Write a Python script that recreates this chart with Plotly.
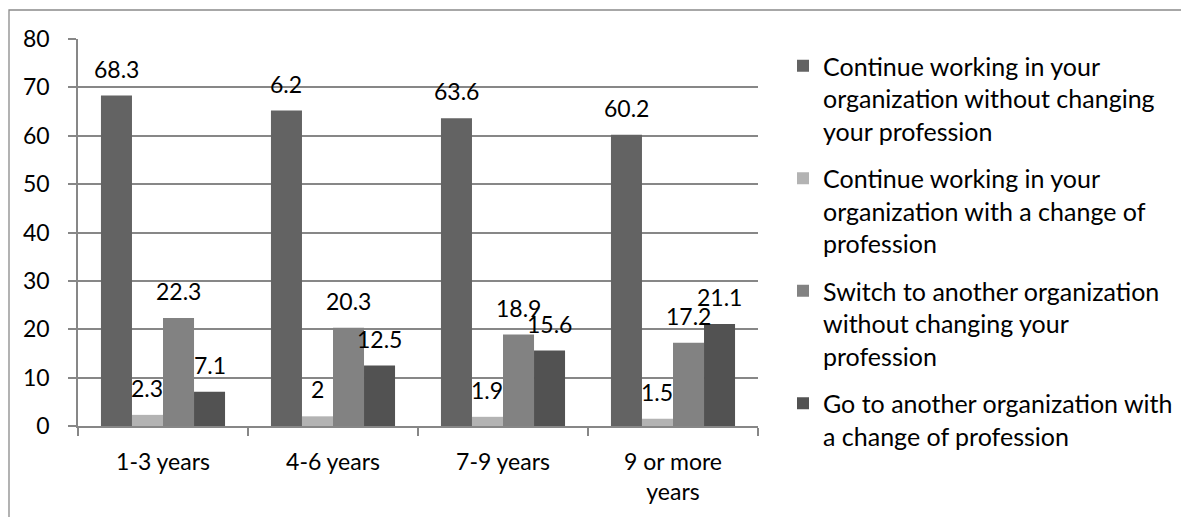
import plotly.graph_objects as go

categories = ["1-3 years", "4-6 years", "7-9 years", "9 or more<br>years"]
series_names = [
    "Continue working in your<br>organization without changing<br>your profession",
    "Continue working in your<br>organization with a change of<br>profession",
    "Switch to another organization<br>without changing your<br>profession",
    "Go to another organization with<br>a change of profession",
]
continue_same = [68.3, 65.2, 63.6, 60.2]
continue_change = [2.3, 2.0, 1.9, 1.5]
switch_same = [22.3, 20.3, 18.9, 17.2]
switch_change = [7.1, 12.5, 15.6, 21.1]
# data labels as printed in the source chart (note "6.2" printed for 4-6 years)
labels_continue_same = ["68.3", "6.2", "63.6", "60.2"]
labels_continue_change = ["2.3", "2", "1.9", "1.5"]
labels_switch_same = ["22.3", "20.3", "18.9", "17.2"]
labels_switch_change = ["7.1", "12.5", "15.6", "21.1"]
y_ticks = [0, 10, 20, 30, 40, 50, 60, 70, 80]

values = [continue_same, continue_change, switch_same, switch_change]
labels = [labels_continue_same, labels_continue_change, labels_switch_same, labels_switch_change]
colors = ["#636363", "#B3B3B3", "#828282", "#525252"]

# the page body has an 8px default margin, so the figure is drawn 8px smaller
OFF = 8
W, H = 1189 - OFF, 517 - OFF
ML, MT = 78 - OFF, 39 - OFF
MR = W - (758 - OFF)
MB = H - (426 - OFF)
FONT = "Lato"
FS = 23
LFS = 25
GRID = "#878787"
BARGAP = 0.27

plot_w = W - ML - MR
plot_h = H - MT - MB

fig = go.Figure()
for i in range(4):
    fig.add_trace(go.Bar(
        x=categories, y=values[i], name=series_names[i],
        marker=dict(color=colors[i], line=dict(width=0)),
        legendgroup=f"g{i}",
    ))

# data labels as annotations above each bar
cat_w = plot_w / len(categories)
bar_w = cat_w * (1 - BARGAP) / 4
for i in range(4):
    for j, c in enumerate(categories):
        fig.add_annotation(
            x=c, y=values[i][j], text=labels[i][j], showarrow=False,
            xshift=(i - 1.5) * bar_w, yshift=11, yanchor="bottom",
            font=dict(family=FONT, size=FS, color="#000000"),
        )

# outer chart border (left and top edges visible)
def px_x(px):
    return (px - OFF - ML) / plot_w

def px_y(py):
    return (426 - py) / plot_h

fig.add_shape(type="rect", xref="paper", yref="paper",
              x0=px_x(9), x1=px_x(1220), y0=px_y(540), y1=px_y(10),
              line=dict(color="#8A8A8A", width=1.3), fillcolor="rgba(0,0,0,0)", layer="below")

fig.update_layout(
    width=W, height=H,
    margin=dict(l=ML, r=MR, t=MT, b=MB, pad=0, autoexpand=False),
    paper_bgcolor="white", plot_bgcolor="white",
    barmode="group", bargap=BARGAP, bargroupgap=0,
    font=dict(family=FONT, size=FS, color="#000000"),
    legend=dict(
        x=px_x(783), xanchor="left",
        y=px_y(43), yanchor="top",
        font=dict(family=FONT, size=LFS, color="#000000"),
        tracegroupgap=12, valign="top", traceorder="grouped",
        bgcolor="rgba(0,0,0,0)",
    ),
    showlegend=True,
)
try:
    fig.update_layout(legend_maxheight=480)
except (ValueError, AttributeError):
    fig.update_layout(legend_tracegroupgap=2, legend_font_size=24)

fig.update_xaxes(
    showline=True, linecolor=GRID, linewidth=1.6,
    ticks="outside", tickson="boundaries", ticklen=8, tickcolor=GRID, tickwidth=1.6,
    ticklabelstandoff=15,
    showgrid=False, tickfont=dict(family=FONT, size=FS, color="#000000"),
)
fig.update_yaxes(
    range=[0, 80], tickvals=y_ticks,
    showline=True, linecolor=GRID, linewidth=1.6,
    ticks="outside", ticklen=8, tickcolor=GRID, tickwidth=1.6,
    ticklabelstandoff=14,
    showgrid=True, gridcolor=GRID, gridwidth=1.6, zeroline=False,
    tickfont=dict(family=FONT, size=FS, color="#000000"),
)

fig.write_html("out.html")
